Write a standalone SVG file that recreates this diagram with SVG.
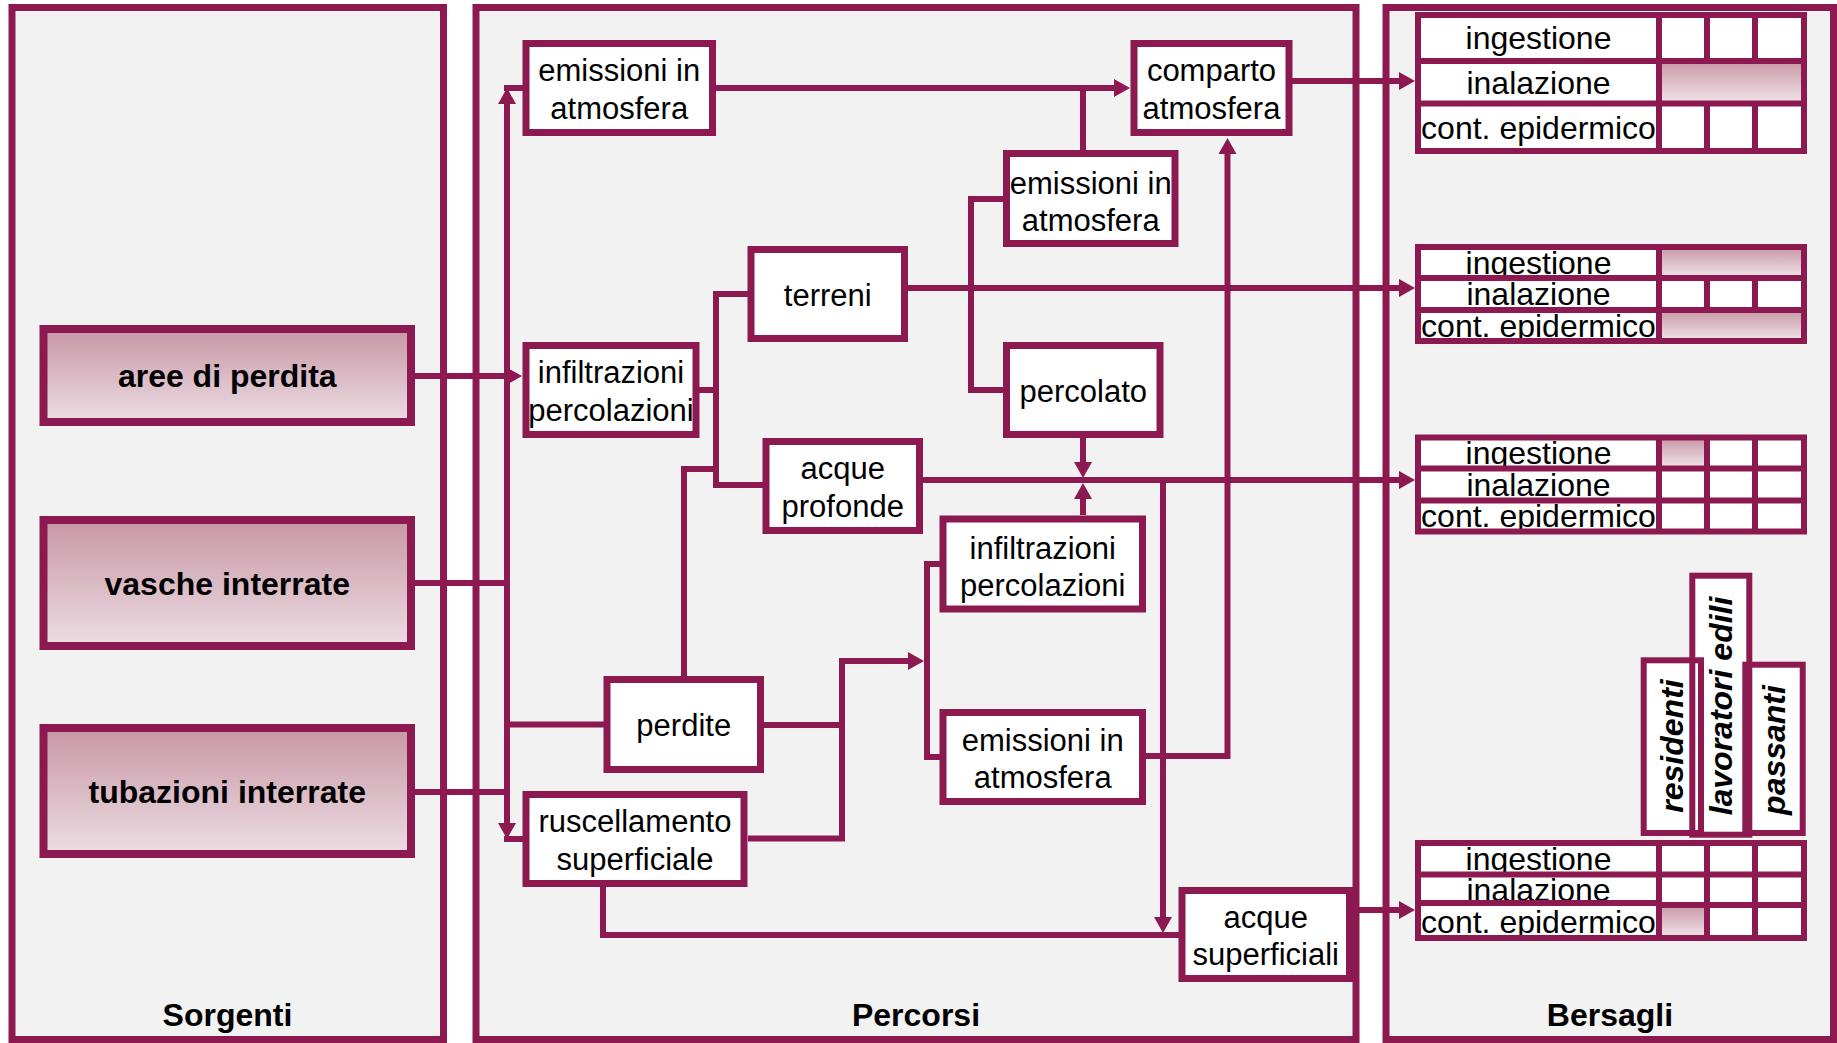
<svg xmlns="http://www.w3.org/2000/svg" width="1837" height="1043" viewBox="0 0 1837 1043">
  <defs>
    <style>
      .panel { fill: #F2F2F2; stroke: #8C1A51; stroke-width: 7; }
      .src { fill: url(#srcGrad); stroke: #8C1A51; stroke-width: 8; }
      .box { fill: #FFFFFF; stroke: #8C1A51; stroke-width: 7; }
      .conn { fill: none; stroke: #8C1A51; stroke-width: 6; stroke-linejoin: miter; }
      .arr { marker-end: url(#ah); }
      .grid { fill: none; stroke: #8C1A51; stroke-width: 6; }
      .cellw { fill: #FFFFFF; }
      .cellg { fill: url(#cellGrad); }
      .vbox { fill: none; stroke: #8C1A51; stroke-width: 6; }
      text { font-family: "Liberation Sans", Arial, sans-serif; fill: #000000; text-anchor: middle; }
      .t { font-size: 31px; }
      .b { font-size: 32px; font-weight: bold; }
      .tab { font-size: 32px; }
      .v { font-size: 32px; font-weight: bold; font-style: italic; }
    </style>
    <linearGradient id="srcGrad" x1="0" y1="0" x2="0" y2="1">
      <stop offset="0" stop-color="#C897A6"/>
      <stop offset="1" stop-color="#ECDDE2"/>
    </linearGradient>
    <linearGradient id="cellGrad" x1="0" y1="0" x2="0" y2="1">
      <stop offset="0" stop-color="#C897A6"/>
      <stop offset="1" stop-color="#F1E5E9"/>
    </linearGradient>
    <marker id="ah" viewBox="0 0 16 18" refX="8" refY="9" markerWidth="16" markerHeight="18" markerUnits="userSpaceOnUse" orient="auto-start-reverse">
      <path d="M0,0 L16,9 L0,18 Z" fill="#8C1A51"/>
    </marker>
  </defs>

  <rect x="0" y="0" width="1837" height="1043" fill="#FFFFFF"/>

  <!-- column panels -->
  <g id="panel-sorgenti">
    <rect class="panel" x="12" y="7.5" width="431.5" height="1032"/>
    <text class="b" x="227.5" y="1026">Sorgenti</text>
  </g>
  <g id="panel-percorsi">
    <rect class="panel" x="476" y="7.5" width="880" height="1032"/>
    <text class="b" x="916" y="1026">Percorsi</text>
  </g>
  <g id="panel-bersagli">
    <rect class="panel" x="1386" y="7.5" width="447.5" height="1032"/>
    <text class="b" x="1610" y="1026">Bersagli</text>
  </g>

  <!-- connectors -->
  <g id="connectors">
    <!-- sources bus -->
    <path class="conn" d="M507,96 V831" marker-start="url(#ah)" marker-end="url(#ah)"/>
    <path class="conn" d="M504,88 H523"/>
    <path class="conn" d="M504,839 H523"/>
    <path class="conn arr" d="M415,376 H514"/>
    <path class="conn" d="M415,583 H507"/>
    <path class="conn" d="M415,792 H507"/>
    <path class="conn" d="M507,724.5 H604"/>

    <!-- atmosphere -->
    <path class="conn arr" d="M716,88 H1122"/>
    <path class="conn" d="M1083,150 V88"/>
    <path class="conn arr" d="M1292,81 H1407"/>
    <path class="conn arr" d="M1146,756 H1227.5 V146"/>

    <!-- soil and groundwater -->
    <path class="conn" d="M699,390 H716"/>
    <path class="conn" d="M748,294 H716 V485 H763"/>
    <path class="conn" d="M684,676 V469 H716"/>
    <path class="conn arr" d="M908,288 H1407"/>
    <path class="conn" d="M1003,199 H971 V390 H1003"/>
    <path class="conn arr" d="M1083,438 V470"/>
    <path class="conn arr" d="M1083,515 V491"/>
    <path class="conn arr" d="M923,480 H1407"/>

    <!-- leaks and runoff -->
    <path class="conn" d="M764,725 H842"/>
    <path class="conn arr" d="M748,838.5 H842 V661 H916"/>
    <path class="conn" d="M940,564 H927 V757 H940"/>
    <path class="conn arr" d="M1163,480 V925"/>
    <path class="conn" d="M603,887 V935 H1179"/>
    <path class="conn arr" d="M1353,910 H1407"/>
  </g>

  <!-- sources -->
  <g id="aree-di-perdita">
    <rect class="src" x="43.5" y="329" width="367.5" height="93"/>
    <text class="b" x="227.25" y="387">aree di perdita</text>
  </g>
  <g id="vasche-interrate">
    <rect class="src" x="43.5" y="520" width="367.5" height="126"/>
    <text class="b" x="227.25" y="594.5">vasche interrate</text>
  </g>
  <g id="tubazioni-interrate">
    <rect class="src" x="43.5" y="728" width="367.5" height="126"/>
    <text class="b" x="227.25" y="802.5">tubazioni interrate</text>
  </g>

  <!-- pathways -->
  <g id="emissioni-1">
    <rect class="box" x="526" y="43.5" width="186.5" height="89"/>
    <text class="t" x="619.25" y="81">emissioni in</text>
    <text class="t" x="619.25" y="118.5">atmosfera</text>
  </g>
  <g id="comparto-atmosfera">
    <rect class="box" x="1134" y="43.5" width="155" height="89"/>
    <text class="t" x="1211.5" y="81">comparto</text>
    <text class="t" x="1211.5" y="118.5">atmosfera</text>
  </g>
  <g id="emissioni-2">
    <rect class="box" x="1006.5" y="153.5" width="168.5" height="90"/>
    <text class="t" x="1090.75" y="193.5">emissioni in</text>
    <text class="t" x="1090.75" y="231">atmosfera</text>
  </g>
  <g id="terreni">
    <rect class="box" x="751" y="249.5" width="153.5" height="89"/>
    <text class="t" x="827.75" y="305.5">terreni</text>
  </g>
  <g id="infiltrazioni-1">
    <rect class="box" x="526" y="345.5" width="170" height="89"/>
    <text class="t" x="611" y="383">infiltrazioni</text>
    <text class="t" x="611" y="420.5">percolazioni</text>
  </g>
  <g id="percolato">
    <rect class="box" x="1006.5" y="345.5" width="153.5" height="89"/>
    <text class="t" x="1083.25" y="401.5">percolato</text>
  </g>
  <g id="acque-profonde">
    <rect class="box" x="766" y="441.5" width="153.5" height="89"/>
    <text class="t" x="842.75" y="479">acque</text>
    <text class="t" x="842.75" y="516.5">profonde</text>
  </g>
  <g id="infiltrazioni-2">
    <rect class="box" x="943" y="519" width="199.5" height="90"/>
    <text class="t" x="1042.75" y="558.5">infiltrazioni</text>
    <text class="t" x="1042.75" y="596">percolazioni</text>
  </g>
  <g id="perdite">
    <rect class="box" x="607" y="679.5" width="153.5" height="90"/>
    <text class="t" x="683.75" y="736">perdite</text>
  </g>
  <g id="emissioni-3">
    <rect class="box" x="943" y="712.5" width="199.5" height="89"/>
    <text class="t" x="1042.75" y="750.5">emissioni in</text>
    <text class="t" x="1042.75" y="788">atmosfera</text>
  </g>
  <g id="ruscellamento">
    <rect class="box" x="526" y="794.5" width="218" height="89"/>
    <text class="t" x="635" y="832">ruscellamento</text>
    <text class="t" x="635" y="869.5">superficiale</text>
  </g>
  <g id="acque-superficiali">
    <rect class="box" x="1182" y="890.5" width="167.5" height="88"/>
    <text class="t" x="1265.75" y="927.5">acque</text>
    <text class="t" x="1265.75" y="965">superficiali</text>
  </g>

  <!-- receptor tables -->
  <g id="tabella-1">
    <rect class="cellw" x="1418" y="15" width="386" height="136"/>
    <rect class="cellg" x="1659" y="61" width="145" height="42.5"/>
    <text class="tab" x="1538.5" y="49">ingestione</text>
    <text class="tab" x="1538.5" y="93.5">inalazione</text>
    <text class="tab" x="1538.5" y="138.5">cont. epidermico</text>
    <path class="grid" d="M1415,15 H1807 M1415,61 H1807 M1415,103.5 H1807 M1415,151 H1807 M1418,15 V151 M1804,15 V151 M1659,15 V151 M1707,15 V61 M1755,15 V61 M1707,103.5 V151 M1755,103.5 V151"/>
  </g>
  <g id="tabella-2">
    <rect class="cellw" x="1418" y="247" width="386" height="94"/>
    <rect class="cellg" x="1659" y="247" width="145" height="31"/>
    <rect class="cellg" x="1659" y="310" width="145" height="31"/>
    <text class="tab" x="1538.5" y="273.5">ingestione</text>
    <text class="tab" x="1538.5" y="305">inalazione</text>
    <text class="tab" x="1538.5" y="336.5">cont. epidermico</text>
    <path class="grid" d="M1415,247 H1807 M1415,278 H1807 M1415,310 H1807 M1415,341 H1807 M1418,247 V341 M1804,247 V341 M1659,247 V341 M1707,278 V310 M1755,278 V310"/>
  </g>
  <g id="tabella-3">
    <rect class="cellw" x="1418" y="437.5" width="386" height="94"/>
    <rect class="cellg" x="1659" y="437.5" width="48" height="31"/>
    <text class="tab" x="1538.5" y="464">ingestione</text>
    <text class="tab" x="1538.5" y="495.5">inalazione</text>
    <text class="tab" x="1538.5" y="527">cont. epidermico</text>
    <path class="grid" d="M1415,437.5 H1807 M1415,468.5 H1807 M1415,500.5 H1807 M1415,531.5 H1807 M1418,437.5 V531.5 M1804,437.5 V531.5 M1659,437.5 V531.5 M1707,437.5 V531.5 M1755,437.5 V531.5"/>
  </g>
  <g id="tabella-4">
    <rect class="cellw" x="1418" y="843" width="386" height="95"/>
    <rect class="cellg" x="1659" y="905" width="48" height="33"/>
    <text class="tab" x="1538.5" y="869.75">ingestione</text>
    <text class="tab" x="1538.5" y="900.75">inalazione</text>
    <text class="tab" x="1538.5" y="932.5">cont. epidermico</text>
    <path class="grid" d="M1415,843 H1807 M1415,874.5 H1807 M1659,905 H1807 M1415,938 H1807 M1418,843 V938 M1804,843 V938 M1659,843 V938 M1707,843 V938 M1755,843 V938"/>
    <path class="grid" d="M1415,903 H1662" stroke-width="10"/>
  </g>

  <!-- receptor headers -->
  <g id="intestazioni">
    <rect class="cellw" x="1643.7" y="660.3" width="57.3" height="172.7"/>
    <rect class="cellw" x="1692.3" y="575.7" width="57" height="259"/>
    <rect class="cellw" x="1745.3" y="664.7" width="57.4" height="168.3"/>
    <rect class="vbox" x="1643.7" y="660.3" width="57.3" height="172.7"/>
    <rect class="vbox" x="1692.3" y="575.7" width="57" height="259"/>
    <rect class="vbox" x="1745.3" y="664.7" width="57.4" height="168.3"/>
    <text class="v" transform="translate(1683,746) rotate(-90)">residenti</text>
    <text class="v" transform="translate(1732,706) rotate(-90)">lavoratori edili</text>
    <text class="v" transform="translate(1785,750) rotate(-90)">passanti</text>
  </g>
</svg>
